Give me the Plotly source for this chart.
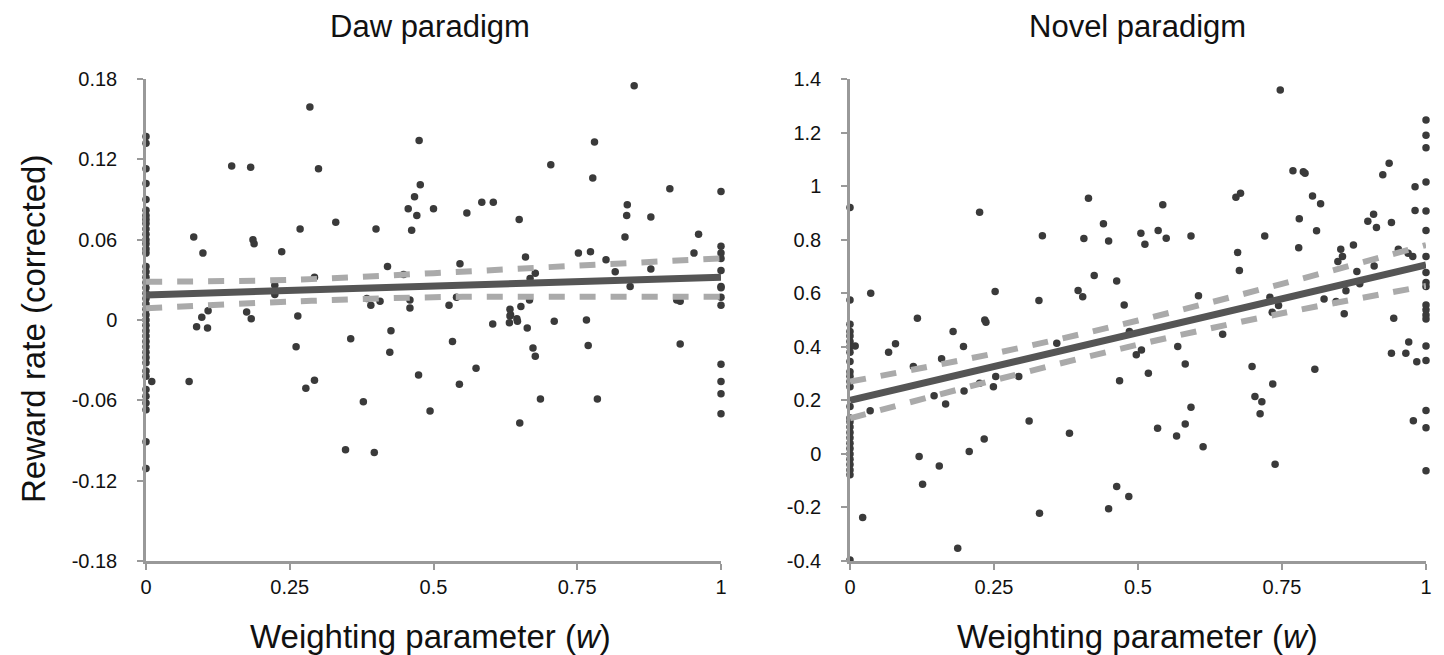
import plotly.graph_objects as go

# ---------------- Data: Daw paradigm ----------------
daw_w0_reward = [0.137, 0.132, 0.113, 0.102, 0.090, 0.082, 0.078, 0.075, 0.072, 0.068, 0.064,
                 0.060, 0.057, 0.053, 0.050, 0.040, 0.036, 0.032, 0.028, 0.024, 0.020, 0.016,
                 0.012, 0.008, 0.004, 0.000, -0.004, -0.008, -0.012, -0.016, -0.020, -0.024,
                 -0.028, -0.032, -0.038, -0.042, -0.052, -0.057, -0.062, -0.067, -0.091, -0.111]
daw_w1_reward = [0.096, 0.055, 0.050, 0.046, 0.037, 0.025, 0.024, 0.017, 0.011,
                 -0.033, -0.046, -0.055, -0.070]
daw_mid_w = [0.285, 0.149, 0.182, 0.300, 0.475, 0.477, 0.467, 0.456, 0.471, 0.462, 0.083, 0.099,
             0.186, 0.188, 0.236, 0.268, 0.330, 0.400, 0.420, 0.448, 0.293, 0.224, 0.224, 0.384,
             0.391, 0.407, 0.459, 0.459, 0.108, 0.097, 0.175, 0.183, 0.264,
             0.088, 0.107, 0.010, 0.075, 0.261, 0.278, 0.293, 0.356, 0.378, 0.347, 0.397, 0.426,
             0.424, 0.474, 0.494,
             0.849, 0.500, 0.558, 0.584, 0.604, 0.649, 0.704, 0.780, 0.777, 0.911, 0.837, 0.836,
             0.878, 0.833, 0.961, 0.660, 0.752, 0.773, 0.800, 0.953, 0.546, 0.878, 0.816, 0.677,
             0.668, 0.842, 0.540, 0.527, 0.667, 0.652, 0.633, 0.634, 0.923, 0.929, 0.645, 0.710,
             0.766, 0.633, 0.632, 0.646, 0.603, 0.663, 0.533, 0.673, 0.677, 0.769, 0.929, 0.574,
             0.545, 0.686, 0.785, 0.650]
daw_mid_reward = [0.159, 0.115, 0.114, 0.113, 0.134, 0.101, 0.092, 0.083, 0.078, 0.067, 0.062, 0.050,
                  0.060, 0.057, 0.051, 0.068, 0.073, 0.068, 0.040, 0.034, 0.032, 0.026, 0.019, 0.016,
                  0.011, 0.014, 0.015, 0.009, 0.007, 0.002, 0.006, 0.001, 0.003,
                  -0.005, -0.006, -0.046, -0.046, -0.020, -0.051, -0.045, -0.014, -0.061, -0.097,
                  -0.099, -0.008, -0.024, -0.041, -0.068,
                  0.175, 0.083, 0.080, 0.088, 0.088, 0.075, 0.116, 0.133, 0.106, 0.098, 0.086, 0.078,
                  0.077, 0.062, 0.064, 0.047, 0.050, 0.051, 0.045, 0.050, 0.042, 0.038, 0.036, 0.035,
                  0.031, 0.025, 0.017, 0.011, 0.015, 0.010, 0.008, 0.004, 0.015, 0.014, 0.001, -0.001,
                  0.000, 0.003, -0.002, -0.001, -0.003, -0.006, -0.016, -0.021, -0.027, -0.019,
                  -0.018, -0.036, -0.048, -0.059, -0.059, -0.077]
daw_fit_w = [0, 1]
daw_fit_reward = [0.0187, 0.032]
daw_ci_w = [0, 0.25, 0.5, 0.75, 1]
daw_ci_upper = [0.0286, 0.030, 0.035, 0.0406, 0.046]
daw_ci_lower = [0.0087, 0.0137, 0.017, 0.0174, 0.0174]

# ---------------- Data: Novel paradigm ----------------
nov_w0_reward = [0.920, 0.575, 0.484, 0.457, 0.440, 0.420, 0.400, 0.380, 0.345, 0.307, 0.290,
                 0.270, 0.251, 0.177, 0.134, 0.120, 0.100, 0.080, 0.060, 0.040, 0.020, 0.000,
                 -0.020, -0.040, -0.060, -0.078, -0.396]
nov_w1_reward = [1.247, 1.190, 1.143, 1.015, 0.907, 0.834, 0.737, 0.677, 0.640, 0.625, 0.556,
                 0.538, 0.519, 0.504, 0.403, 0.349, 0.162, 0.098, -0.063]
nov_mid_w = [0.036, 0.225, 0.252, 0.334, 0.328, 0.414, 0.440, 0.406, 0.449, 0.424, 0.463, 0.396,
             0.404, 0.117, 0.234,
             0.009, 0.035, 0.022, 0.067, 0.079, 0.110, 0.146, 0.166, 0.159, 0.179, 0.197, 0.198,
             0.236, 0.225, 0.249, 0.253, 0.120, 0.126, 0.155, 0.207, 0.233, 0.187, 0.293, 0.311,
             0.329, 0.359, 0.381, 0.449, 0.463, 0.468,
             0.747, 0.981, 0.981, 0.936, 0.925, 0.909, 0.899, 0.914, 0.940, 0.952, 0.969, 0.977,
             0.769, 0.787, 0.790, 0.803, 0.817, 0.780, 0.810, 0.779, 0.874, 0.852, 0.855, 0.847,
             0.880, 0.910, 0.885, 0.861, 0.844, 0.823, 0.858, 0.944, 0.670, 0.678, 0.673, 0.676,
             0.720, 0.729, 0.744, 0.733, 0.605, 0.592, 0.543, 0.505, 0.512, 0.535, 0.549, 0.476,
             0.485, 0.497, 0.506, 0.518, 0.484, 0.534, 0.569, 0.582, 0.592, 0.582, 0.567, 0.613,
             0.647, 0.698, 0.703, 0.715, 0.712, 0.734, 0.738, 0.807, 0.940, 0.965, 0.970, 0.984,
             0.978]
nov_mid_reward = [0.600, 0.902, 0.606, 0.815, 0.573, 0.955, 0.859, 0.804, 0.795, 0.666, 0.646, 0.610,
                  0.587, 0.507, 0.500,
                  0.403, 0.161, -0.238, 0.380, 0.411, 0.326, 0.217, 0.186, 0.355, 0.457, 0.401, 0.235,
                  0.492, 0.264, 0.251, 0.289, -0.010, -0.113, -0.045, 0.009, 0.056, -0.352, 0.289,
                  0.123, -0.222, 0.413, 0.077, -0.205, -0.122, 0.273,
                  1.359, 0.998, 0.909, 1.085, 1.042, 0.895, 0.869, 0.845, 0.864, 0.764, 0.749, 0.737,
                  1.057, 1.054, 1.048, 0.963, 0.934, 0.878, 0.833, 0.770, 0.780, 0.764, 0.737, 0.718,
                  0.681, 0.702, 0.635, 0.609, 0.569, 0.578, 0.523, 0.507, 0.958, 0.973, 0.752, 0.685,
                  0.814, 0.585, 0.554, 0.529, 0.591, 0.814, 0.930, 0.824, 0.783, 0.834, 0.805, 0.556,
                  0.457, 0.370, 0.388, 0.301, -0.159, 0.096, 0.401, 0.336, 0.174, 0.112, 0.067, 0.027,
                  0.447, 0.326, 0.214, 0.195, 0.150, 0.261, -0.039, 0.316, 0.376, 0.376, 0.418, 0.344,
                  0.124]
nov_fit_w = [0, 1]
nov_fit_reward = [0.200, 0.706]
nov_ci_w = [0, 0.25, 0.5, 0.75, 1]
nov_ci_upper = [0.270, 0.375, 0.498, 0.635, 0.780]
nov_ci_lower = [0.133, 0.275, 0.408, 0.525, 0.627]

# ---------------- Tick labels ----------------
x_tickvals = [0, 0.25, 0.5, 0.75, 1]
x_ticktext = ["0", "0.25", "0.5", "0.75", "1"]
daw_tickvals = [0.18, 0.12, 0.06, 0, -0.06, -0.12, -0.18]
daw_ticktext = ["0.18", "0.12", "0.06", "0", "-0.06", "-0.12", "-0.18"]
nov_tickvals = [1.4, 1.2, 1, 0.8, 0.6, 0.4, 0.2, 0, -0.2, -0.4]
nov_ticktext = ["1.4", "1.2", "1", "0.8", "0.6", "0.4", "0.2", "0", "-0.2", "-0.4"]

titles = ["Daw paradigm", "Novel paradigm"]
x_title = "Weighting parameter (<i>w</i>)"
y_title = "Reward rate (corrected)"

# ---------------- Styling ----------------
FONT = "Liberation Sans, Arial, Helvetica, sans-serif"
DOT = "#3a3a3a"
FIT = "#555555"
CI = "#aaaaaa"
AXIS = "#999999"

fig = go.Figure()


def add_panel(xa, ya, w0, w1, mid_w, mid_r, fit_w, fit_r, ci_w, ci_u, ci_l):
    xs = [0.0] * len(w0) + [1.0] * len(w1) + list(mid_w)
    ys = list(w0) + list(w1) + list(mid_r)
    fig.add_trace(go.Scatter(x=xs, y=ys, mode="markers", xaxis=xa, yaxis=ya,
                             marker=dict(size=7.5, color=DOT), cliponaxis=False,
                             showlegend=False, hoverinfo="skip"))
    for band in (ci_u, ci_l):
        fig.add_trace(go.Scatter(x=ci_w, y=band, mode="lines", xaxis=xa, yaxis=ya,
                                 line=dict(color=CI, width=6, dash="16px,15px", shape="spline"),
                                 showlegend=False, hoverinfo="skip"))
    fig.add_trace(go.Scatter(x=fit_w, y=fit_r, mode="lines", xaxis=xa, yaxis=ya,
                             line=dict(color=FIT, width=7), showlegend=False, hoverinfo="skip"))


add_panel("x", "y", daw_w0_reward, daw_w1_reward, daw_mid_w, daw_mid_reward,
          daw_fit_w, daw_fit_reward, daw_ci_w, daw_ci_upper, daw_ci_lower)
add_panel("x2", "y2", nov_w0_reward, nov_w1_reward, nov_mid_w, nov_mid_reward,
          nov_fit_w, nov_fit_reward, nov_ci_w, nov_ci_upper, nov_ci_lower)

common_x = dict(range=[0, 1], tickvals=x_tickvals, ticktext=x_ticktext, showgrid=False,
                zeroline=False, showline=True, linecolor=AXIS, linewidth=2.5,
                ticks="outside", ticklen=6, tickwidth=2, tickcolor=AXIS,
                tickfont=dict(family=FONT, size=20, color="#111"), ticklabelstandoff=0)
common_y = dict(showgrid=False, zeroline=False, showline=True, linecolor=AXIS, linewidth=2.5,
                ticks="outside", ticklen=6, tickwidth=2, tickcolor=AXIS,
                tickfont=dict(family=FONT, size=20, color="#111"), ticklabelstandoff=16)

fig.update_layout(
    width=1444, height=655,
    margin=dict(l=146, r=18, t=79, b=94),
    paper_bgcolor="white", plot_bgcolor="white",
    xaxis=dict(domain=[0, 575 / 1280], anchor="y", **common_x),
    xaxis2=dict(domain=[704 / 1280, 1], anchor="y2", **common_x),
    yaxis=dict(domain=[0, 1], anchor="x", range=[-0.18, 0.18], tickvals=daw_tickvals,
               ticktext=daw_ticktext, **common_y),
    yaxis2=dict(domain=[0, 1], anchor="x2", range=[-0.4, 1.4], tickvals=nov_tickvals,
                ticktext=nov_ticktext, **common_y),
    showlegend=False,
)

ann_font_title = dict(family=FONT, size=31, color="#111")
ann_font_axis = dict(family=FONT, size=33, color="#111")
fig.add_annotation(text=titles[0], x=(430 - 146) / 1280, y=(561 - 27) / 482, xref="paper",
                   yref="paper", showarrow=False, font=ann_font_title, xanchor="center", yanchor="middle")
fig.add_annotation(text=titles[1], x=(1137 - 146) / 1280, y=(561 - 27) / 482, xref="paper",
                   yref="paper", showarrow=False, font=ann_font_title, xanchor="center", yanchor="middle")
fig.add_annotation(text=x_title, x=(430 - 146) / 1280, y=(561 - 636) / 482, xref="paper",
                   yref="paper", showarrow=False, font=ann_font_axis, xanchor="center", yanchor="middle")
fig.add_annotation(text=x_title, x=(1137 - 146) / 1280, y=(561 - 636) / 482, xref="paper",
                   yref="paper", showarrow=False, font=ann_font_axis, xanchor="center", yanchor="middle")
fig.add_annotation(text=y_title, x=(33 - 146) / 1280, y=(561 - 329) / 482, xref="paper",
                   yref="paper", showarrow=False, font=ann_font_axis, textangle=-90,
                   xanchor="center", yanchor="middle")

fig.write_html("out.html", config={"displayModeBar": False},
               post_script="document.body.style.margin='0px';")
